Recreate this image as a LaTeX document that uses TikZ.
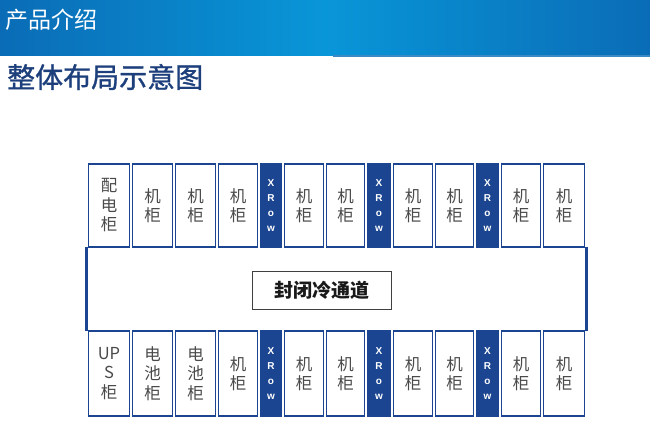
\documentclass[tikz,border=0pt]{standalone}
\usepackage{fontspec}
\newfontfamily\cjk{Noto Sans CJK SC}
\newfontfamily\cjkbold[FakeBold=1.2]{Noto Sans CJK SC}
\newfontfamily\xfont{Liberation Sans}
\definecolor{dkblue}{HTML}{1B4590}
\definecolor{hdrL}{HTML}{0A6CB6}
\definecolor{hdrM}{HTML}{0996D8}
\definecolor{titleblue}{HTML}{1D3F7C}
\definecolor{cabtext}{HTML}{4A4A4A}
\tikzset{
  cab/.style={draw=dkblue, line width=1.5pt, fill=white, text=cabtext, align=center, inner sep=0pt,
    font=\cjk\fontsize{16.5}{19.5}\selectfont},
  xrow/.style={draw=dkblue, line width=1.5pt, fill=dkblue, text=white, align=center, inner sep=0pt,
    font=\xfont\bfseries\fontsize{10}{15}\selectfont},
  aisle/.style={draw=none, inner sep=0pt},
  labelbox/.style={draw=black!75, line width=0.8pt, fill=white, inner sep=0pt,
    font=\cjk\bfseries\fontsize{19}{22}\selectfont, text=black!90},
  side/.style={draw=dkblue, line width=2.6pt}
}
\begin{document}
\begin{tikzpicture}[x=1pt,y=-1pt]
\useasboundingbox (0,0) rectangle (650,440);
% header band
\shade[left color=hdrL, right color=hdrL, middle color=hdrM] (0,0) rectangle (650,55);
\fill[hdrL!80] (333,55) rectangle (650,57);
\node[anchor=west, text=white, font=\cjk\fontsize{23}{26}\selectfont, inner sep=0pt] (hdr) at (5,20) {产品介绍};
\node[anchor=west, text=titleblue, font=\cjkbold\fontsize{28}{32}\selectfont, inner sep=0pt] (title) at (7,77) {整体布局示意图};
% aisle
\node[aisle, minimum width=500pt, minimum height=82pt] (aisle) at (336.5,289) {};
\draw[side] ([yshift=1pt]aisle.north west) -- ([yshift=-1pt]aisle.south west);
\draw[side] ([yshift=1pt]aisle.north east) -- ([yshift=-1pt]aisle.south east);
\node[labelbox, minimum width=139pt, minimum height=38pt] (label) at (321.5,290) {封闭冷通道};
% top row cabinets
\foreach \i/\l/\r/\t in {1/87/131/{配\\电\\柜}, 2/131/174/{机\\柜}, 3/174/217/{机\\柜}, 4/217/259/{机\\柜},
  6/283/325/{机\\柜}, 7/325/366/{机\\柜}, 9/392/434/{机\\柜}, 10/434/475/{机\\柜},
  12/500/542/{机\\柜}, 13/542/586/{机\\柜}}{
  \pgfmathsetmacro\cx{(\l+\r)/2}
  \pgfmathsetmacro\w{\r-\l-3}
  \node[cab, minimum width=\w pt, minimum height=83pt] (t\i) at (\cx,205.5) {\t};
}
\foreach \i/\l/\r in {5/259/283, 8/366/392, 11/475/500}{
  \pgfmathsetmacro\cx{(\l+\r)/2}
  \pgfmathsetmacro\w{\r-\l-3}
  \node[xrow, minimum width=\w pt, minimum height=83pt] (t\i) at (\cx,205.5) {X\\R\\o\\w};
}
% bottom row cabinets
\foreach \i/\l/\r/\t in {1/87/131/{UP\\S\\柜}, 2/131/174/{电\\池\\柜}, 3/174/217/{电\\池\\柜}, 4/217/259/{机\\柜},
  6/283/325/{机\\柜}, 7/325/366/{机\\柜}, 9/392/434/{机\\柜}, 10/434/475/{机\\柜},
  12/500/542/{机\\柜}, 13/542/586/{机\\柜}}{
  \pgfmathsetmacro\cx{(\l+\r)/2}
  \pgfmathsetmacro\w{\r-\l-3}
  \node[cab, minimum width=\w pt, minimum height=85pt] (b\i) at (\cx,373.5) {\t};
}
\foreach \i/\l/\r in {5/259/283, 8/366/392, 11/475/500}{
  \pgfmathsetmacro\cx{(\l+\r)/2}
  \pgfmathsetmacro\w{\r-\l-3}
  \node[xrow, minimum width=\w pt, minimum height=85pt] (b\i) at (\cx,373.5) {X\\R\\o\\w};
}
\end{tikzpicture}
\end{document}
